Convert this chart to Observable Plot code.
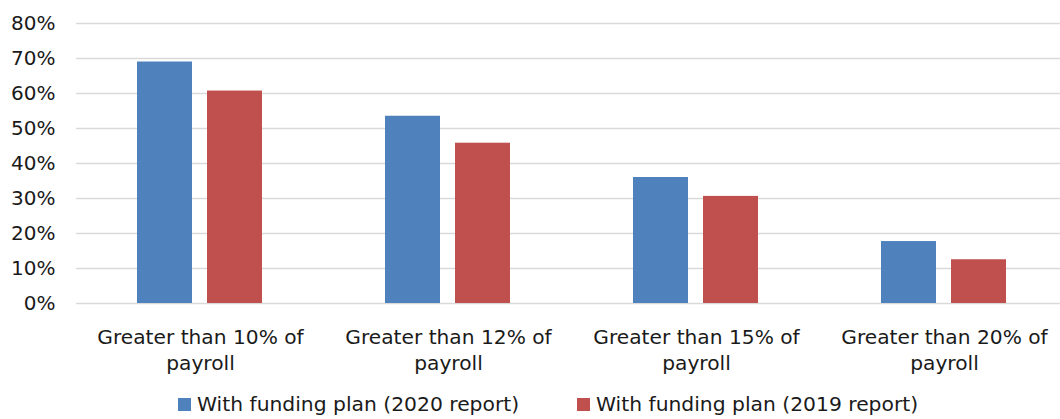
<!DOCTYPE html>
<html>
<head>
<meta charset="utf-8">
<script src="https://cdn.jsdelivr.net/npm/d3@7"></script>
<script src="https://cdn.jsdelivr.net/npm/@observablehq/plot@0.6"></script>
<style>
  html, body { margin: 0; padding: 0; background: #fff; }
  body { position: relative; width: 1060px; height: 419px; overflow: hidden; font-family: "DejaVu Sans", sans-serif; color: #1a1a1a; }
  #chart svg { display: block; }
  .leg { position: absolute; top: 394px; height: 20px; display: flex; align-items: center; }
  .sw { width: 13px; height: 13px; margin-right: 6px; flex: none; }
  .lt { display: inline-block; font-size: 20.3px; line-height: 20px; white-space: nowrap; }
</style>
</head>
<body>
<div id="chart"></div>
<div class="leg" id="leg0" style="left:178px"></div>
<div class="leg" id="leg1" style="left:577px"></div>
<script>
const categories = [
  "Greater than 10% of payroll",
  "Greater than 12% of payroll",
  "Greater than 15% of payroll",
  "Greater than 20% of payroll"
];
const categoryLabels = [
  "Greater than 10% of\npayroll",
  "Greater than 12% of\npayroll",
  "Greater than 15% of\npayroll",
  "Greater than 20% of\npayroll"
];
const seriesNames = ["With funding plan (2020 report)", "With funding plan (2019 report)"];
const values2020 = [0.69, 0.535, 0.36, 0.177];
const values2019 = [0.607, 0.458, 0.306, 0.125];
const yTicks = [0, 0.1, 0.2, 0.3, 0.4, 0.5, 0.6, 0.7, 0.8];
const colors = ["#4f81bd", "#c0504d"];

const data = [];
categories.forEach((c, i) => {
  data.push({category: c, series: seriesNames[0], value: values2020[i]});
  data.push({category: c, series: seriesNames[1], value: values2019[i]});
});
const labelData = categories.map((c, i) => ({category: c, label: categoryLabels[i]}));

const chart = Plot.plot({
  width: 1060,
  height: 375,
  marginLeft: 75,
  marginRight: 0,
  marginTop: 23,
  marginBottom: 72,
  style: {fontFamily: "DejaVu Sans", fontSize: "20px", color: "#1a1a1a", background: "#fff", overflow: "hidden"},
  fx: {domain: categories, range: [75, 1068], padding: 0, axis: null, label: null},
  x: {domain: seriesNames, paddingInner: 0.211, paddingOuter: 0.859, axis: null},
  y: {domain: [0, 0.8], ticks: yTicks, tickFormat: d => Math.round(d * 100) + "%", tickSize: 0, tickPadding: 21, label: null},
  color: {domain: seriesNames, range: colors},
  marks: [
    Plot.ruleY(yTicks, {stroke: "#d9d9d9", strokeWidth: 1.5}),
    Plot.barY(data, {fx: "category", x: "series", y: "value", fill: "series"}),
    Plot.text(labelData, {fx: "category", text: "label", frameAnchor: "bottom", lineAnchor: "top", dy: 22, lineHeight: 1.29, fontSize: 20.2, fill: "#1a1a1a"})
  ]
});
document.getElementById("chart").appendChild(chart);

seriesNames.forEach((s, i) => {
  const el = document.getElementById("leg" + i);
  const sw = document.createElement("span");
  sw.className = "sw";
  sw.style.background = colors[i];
  const t = document.createElement("span");
  t.className = "lt";
  t.textContent = s;
  el.appendChild(sw);
  el.appendChild(t);
});
</script>
</body>
</html>
